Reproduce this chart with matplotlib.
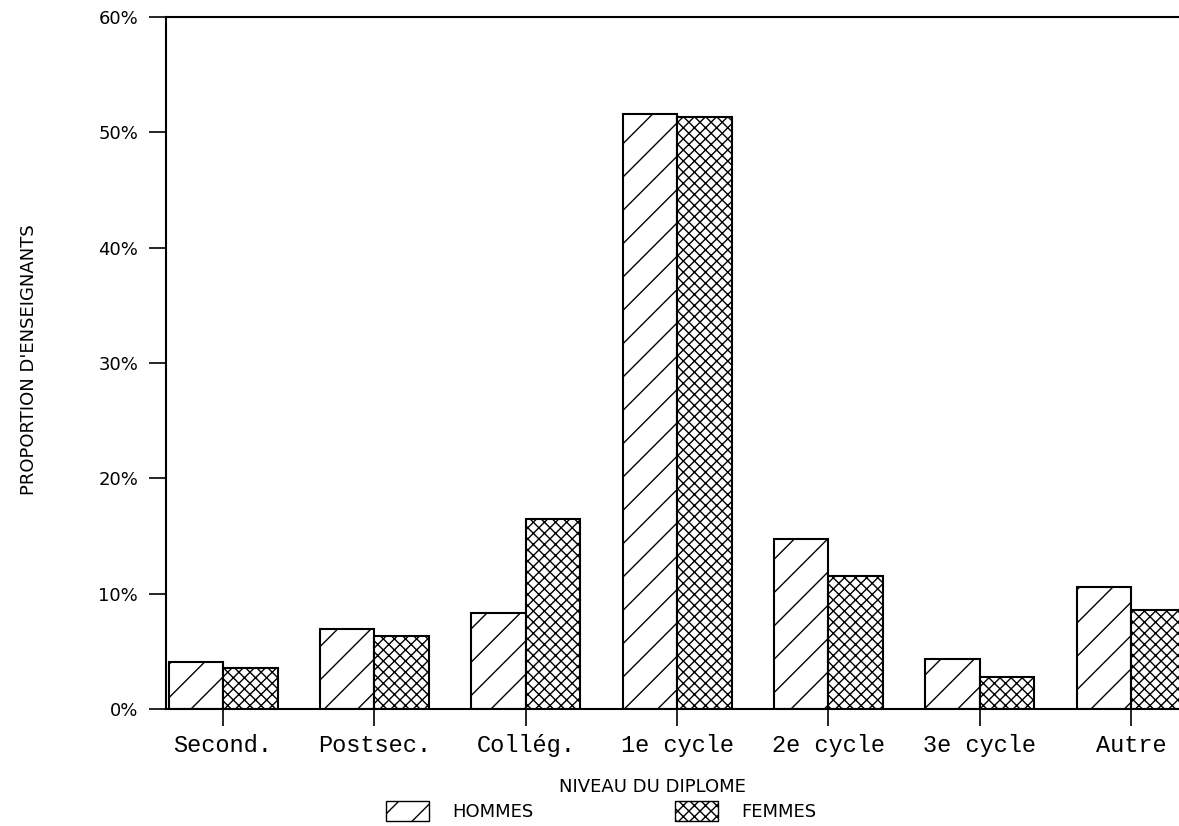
import numpy as np
import matplotlib
matplotlib.use('Agg')
import matplotlib.pyplot as plt
from matplotlib.patches import Patch

plt.rcParams['hatch.linewidth'] = 1.0

categories = ['Second.', 'Postsec.', 'Collég.', '1e cycle', '2e cycle', '3e cycle', 'Autre']
hommes = [4.1, 6.9, 8.3, 51.6, 14.7, 4.3, 10.6]
femmes = [3.6, 6.3, 16.5, 51.3, 11.5, 2.8, 8.6]
yticks = [0, 10, 20, 30, 40, 50, 60]

fig = plt.figure(figsize=(11.79, 8.26), dpi=100)
ax = fig.add_axes([0.1408, 0.1416, 0.8592, 0.8378])

x = np.arange(len(categories))
w = 0.36
ax.bar(x - w / 2, hommes, w, color='white', edgecolor='black', hatch='/', linewidth=1.5)
ax.bar(x + w / 2, femmes, w, color='white', edgecolor='black', hatch='xxx', linewidth=1.5)

ax.set_xlim(-0.377, 6.317)
ax.set_ylim(0, 60)
ax.set_xticks(x)
ax.set_xticklabels(categories, family='Liberation Mono', fontsize=17)
ax.set_yticks(yticks)
ax.set_yticklabels([f'{v}%' for v in yticks], fontsize=13)
ax.tick_params(axis='y', length=12, width=1.2, pad=8)
ax.tick_params(axis='x', length=12, width=1.2, pad=6)
ax.spines['right'].set_visible(False)
for s in ['left', 'top', 'bottom']:
    ax.spines[s].set_linewidth(1.5)

fig.text(0.025, 0.565, "PROPORTION D'ENSEIGNANTS", rotation=90, ha='center', va='center', fontsize=13)
fig.text(0.553, 0.047, 'NIVEAU DU DIPLOME', ha='center', va='center', fontsize=13)

handles = [Patch(facecolor='white', edgecolor='black', hatch='/'),
           Patch(facecolor='white', edgecolor='black', hatch='xxx')]
fig.legend(handles, ['HOMMES', 'FEMMES'], ncol=2, frameon=False, loc='center',
           bbox_to_anchor=(0.51, 0.018), fontsize=13, handlelength=2.4, handleheight=1.3,
           columnspacing=7.8, handletextpad=1.3)

fig.savefig('out.png', dpi=100)
